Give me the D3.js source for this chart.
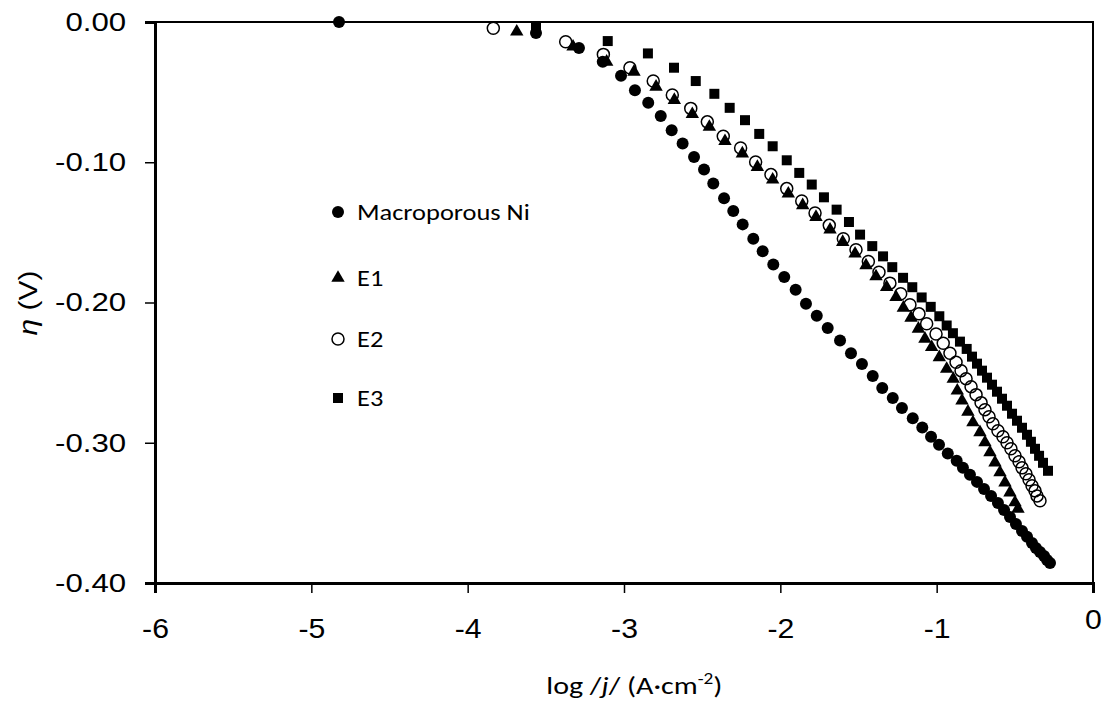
<!DOCTYPE html>
<html>
<head>
<meta charset="utf-8">
<script src="https://cdn.jsdelivr.net/npm/d3@7"></script>
<style>
  body { margin: 0; background: #fff; }
  #chart { width: 1105px; height: 701px; }
</style>
</head>
<body>
<div id="chart"></div>
<script>
// Tafel data: log|j| (A cm-2) and overpotential (V)
const seriesNames = ["Macroporous Ni", "E1", "E2", "E3"];

const niLogJ = [-4.823,-3.563,-3.288,-3.136,-3.019,-2.930,-2.845,-2.765,-2.695,-2.625,-2.552,-2.488,-2.429,-2.360,-2.301,-2.241,-2.173,-2.113,-2.045,-1.975,-1.902,-1.836,-1.767,-1.697,-1.618,-1.548,-1.478,-1.409,-1.348,-1.281,-1.222,-1.153,-1.092,-1.036,-0.985,-0.929,-0.872,-0.832,-0.787,-0.742,-0.697,-0.652,-0.608,-0.569,-0.531,-0.493,-0.454,-0.422,-0.390,-0.365,-0.339,-0.313,-0.294,-0.275];
const niEta = [0,-0.0079,-0.0186,-0.0284,-0.0384,-0.0486,-0.0576,-0.0671,-0.0771,-0.0866,-0.0962,-0.1052,-0.1152,-0.1257,-0.1348,-0.1443,-0.1545,-0.1634,-0.1729,-0.1819,-0.1909,-0.2009,-0.2095,-0.2181,-0.2271,-0.2362,-0.2438,-0.2524,-0.2609,-0.2681,-0.2752,-0.2826,-0.2891,-0.2957,-0.3014,-0.3076,-0.3129,-0.3179,-0.3229,-0.3279,-0.3329,-0.3379,-0.3429,-0.3479,-0.3529,-0.3579,-0.3629,-0.3671,-0.3714,-0.3750,-0.3779,-0.3807,-0.3836,-0.3857];

const e1LogJ = [-3.686,-3.326,-3.111,-2.936,-2.795,-2.678,-2.563,-2.454,-2.354,-2.243,-2.147,-2.049,-1.949,-1.857,-1.772,-1.682,-1.601,-1.522,-1.452,-1.388,-1.320,-1.260,-1.213,-1.164,-1.117,-1.075,-1.032,-0.983,-0.936,-0.894,-0.868,-0.838,-0.800,-0.768,-0.723,-0.691,-0.659,-0.627,-0.595,-0.563,-0.531,-0.499,-0.480];
const e1Eta = [-0.0069,-0.0176,-0.0284,-0.0355,-0.0462,-0.0557,-0.0657,-0.0748,-0.0850,-0.0938,-0.1034,-0.1124,-0.1224,-0.1307,-0.1391,-0.1481,-0.1569,-0.1652,-0.1736,-0.1814,-0.1891,-0.1962,-0.2038,-0.2109,-0.2188,-0.2259,-0.2319,-0.2391,-0.2474,-0.2545,-0.2629,-0.2700,-0.2779,-0.2855,-0.2926,-0.2998,-0.3069,-0.3141,-0.3212,-0.3284,-0.3355,-0.3426,-0.3471];

const e2LogJ = [-3.836,-3.373,-3.132,-2.962,-2.813,-2.691,-2.573,-2.467,-2.365,-2.254,-2.158,-2.060,-1.959,-1.863,-1.778,-1.687,-1.597,-1.516,-1.437,-1.369,-1.299,-1.230,-1.171,-1.113,-1.064,-1.004,-0.958,-0.915,-0.876,-0.844,-0.812,-0.780,-0.748,-0.716,-0.691,-0.665,-0.640,-0.608,-0.576,-0.550,-0.525,-0.499,-0.473,-0.454,-0.429,-0.409,-0.390,-0.371,-0.358,-0.339];
const e2Eta = [-0.0045,-0.0141,-0.0231,-0.0326,-0.0421,-0.0521,-0.0616,-0.0712,-0.0814,-0.0898,-0.0998,-0.1088,-0.1188,-0.1276,-0.1362,-0.1450,-0.1545,-0.1624,-0.1707,-0.1784,-0.1862,-0.1938,-0.2016,-0.2081,-0.2152,-0.2224,-0.2291,-0.2362,-0.2426,-0.2486,-0.2543,-0.2600,-0.2657,-0.2714,-0.2764,-0.2814,-0.2864,-0.2914,-0.2957,-0.3000,-0.3043,-0.3093,-0.3136,-0.3179,-0.3221,-0.3264,-0.3307,-0.3343,-0.3379,-0.3414];

const e3LogJ = [-3.563,-3.104,-2.847,-2.680,-2.541,-2.422,-2.324,-2.226,-2.135,-2.049,-1.959,-1.879,-1.799,-1.721,-1.640,-1.561,-1.490,-1.412,-1.343,-1.284,-1.215,-1.156,-1.096,-1.038,-0.983,-0.936,-0.896,-0.851,-0.808,-0.774,-0.742,-0.710,-0.678,-0.646,-0.614,-0.582,-0.550,-0.518,-0.486,-0.454,-0.422,-0.397,-0.371,-0.345,-0.320,-0.288];
const e3Eta = [-0.0034,-0.0136,-0.0224,-0.0326,-0.0421,-0.0512,-0.0612,-0.0700,-0.0798,-0.0886,-0.0986,-0.1076,-0.1159,-0.1250,-0.1338,-0.1426,-0.1516,-0.1598,-0.1671,-0.1748,-0.1824,-0.1891,-0.1964,-0.2031,-0.2098,-0.2164,-0.2219,-0.2279,-0.2331,-0.2386,-0.2436,-0.2486,-0.2536,-0.2586,-0.2636,-0.2686,-0.2736,-0.2793,-0.2843,-0.2893,-0.2943,-0.2993,-0.3043,-0.3093,-0.3143,-0.3200];

// axis ticks
const xTicks = [-6, -5, -4, -3, -2, -1, 0];
const yTicks = [0, -0.1, -0.2, -0.3, -0.4];

// build the series table from the arrays above
const series = [
  { name: seriesNames[0], shape: "circle", open: false, x: niLogJ, y: niEta },
  { name: seriesNames[1], shape: "triangle", open: false, x: e1LogJ, y: e1Eta },
  { name: seriesNames[2], shape: "circle", open: true, x: e2LogJ, y: e2Eta },
  { name: seriesNames[3], shape: "square", open: false, x: e3LogJ, y: e3Eta },
];

const width = 1105, height = 701;
const margin = { left: 155, right: 12, top: 22, bottom: 118 };
const innerW = width - margin.left - margin.right;
const innerH = height - margin.top - margin.bottom;

const svg = d3.select("#chart").append("svg")
  .attr("width", width).attr("height", height);

const g = svg.append("g")
  .attr("transform", `translate(${margin.left},${margin.top})`);

const x = d3.scaleLinear().domain([-6, 0]).range([0, innerW]);
const y = d3.scaleLinear().domain([-0.4, 0]).range([innerH, 0]);

// marker generators
const symbolFor = {
  circle: d3.symbol().type(d3.symbolCircle).size(Math.PI * 36),
  triangle: d3.symbol().type(d3.symbolTriangle).size(78),
  square: d3.symbol().type(d3.symbolSquare).size(100),
};

// plot-area border (top and right)
g.append("rect")
  .attr("width", innerW).attr("height", innerH)
  .attr("fill", "none").attr("stroke", "#000").attr("stroke-width", 2);

// x axis
const xAxis = g.append("g")
  .attr("transform", `translate(0,${innerH})`)
  .call(d3.axisBottom(x).tickValues(xTicks).tickSize(10).tickPadding(26)
    .tickFormat((d) => String(d)));
xAxis.select(".domain").attr("stroke-width", 3);
xAxis.selectAll(".tick line").attr("stroke-width", 1.5);
xAxis.selectAll(".tick text")
  .attr("font-family", "'Liberation Sans', Arial, sans-serif")
  .attr("font-size", 27)
  .attr("fill", "#000")
  .attr("transform", "scale(1.12,1)")
  .attr("dy", (d) => d === 0 ? "0.38em" : "0.71em");

// y axis
const yAxis = g.append("g")
  .call(d3.axisLeft(y).tickValues(yTicks).tickSize(10)
    .tickFormat((d) => d3.format(".2f")(d).replace("−", "-")));
yAxis.select(".domain").attr("stroke-width", 3);
yAxis.selectAll(".tick line").attr("stroke-width", 1.5);
yAxis.selectAll(".tick text")
  .attr("font-family", "'Liberation Sans', Arial, sans-serif")
  .attr("font-size", 26)
  .attr("fill", "#000")
  .attr("x", -24)
  .attr("transform", "scale(1.2,1)");

// data markers, one group per series
series.forEach((s) => {
  const pts = d3.zip(s.x, s.y);
  g.append("g")
    .selectAll("path")
    .data(pts)
    .join("path")
    .attr("d", symbolFor[s.shape])
    .attr("transform", (d) => `translate(${x(d[0])},${y(d[1])})`)
    .attr("fill", s.open ? "none" : "#000")
    .attr("stroke", "#000")
    .attr("stroke-width", s.open ? 1.5 : 0);
});

// legend inside the plot
const legend = svg.append("g").attr("transform", "translate(338,212)");
const rowY = [0, 66, 127, 186];
series.forEach((s, i) => {
  const row = legend.append("g").attr("transform", `translate(0,${rowY[i]})`);
  row.append("path")
    .attr("d", symbolFor[s.shape])
    .attr("fill", s.open ? "none" : "#000")
    .attr("stroke", "#000")
    .attr("stroke-width", s.open ? 1.5 : 0);
  row.append("text")
    .attr("x", 19 / 1.2)
    .attr("dy", "0.36em")
    .attr("transform", "scale(1.2,1)")
    .attr("font-family", "Carlito, Lato, sans-serif")
    .attr("font-size", 22)
    .attr("fill", "#000")
    .text(s.name);
});

// x axis title: log /j/ (A·cm-2)
const xTitle = svg.append("text")
  .attr("transform", `translate(${margin.left + innerW * 0.511},694) scale(1.2,1)`)
  .attr("text-anchor", "middle")
  .attr("font-family", "Carlito, Lato, sans-serif")
  .attr("font-size", 25)
  .attr("fill", "#000");
xTitle.append("tspan").text("log /");
xTitle.append("tspan").attr("font-style", "italic").text("j");
xTitle.append("tspan").text("/ (A·cm");
xTitle.append("tspan").attr("dy", -10).attr("font-size", 16).text("-2");
xTitle.append("tspan").attr("dy", 10).text(")");

// y axis title: η (V)
const yTitle = svg.append("text")
  .attr("transform", "translate(37,303) rotate(-90) scale(1.2,1)")
  .attr("text-anchor", "middle")
  .attr("font-family", "'Liberation Sans', Arial, sans-serif")
  .attr("font-size", 25)
  .attr("fill", "#000");
yTitle.append("tspan").attr("font-style", "italic").text("η");
yTitle.append("tspan").text(" (V)");
</script>
</body>
</html>
